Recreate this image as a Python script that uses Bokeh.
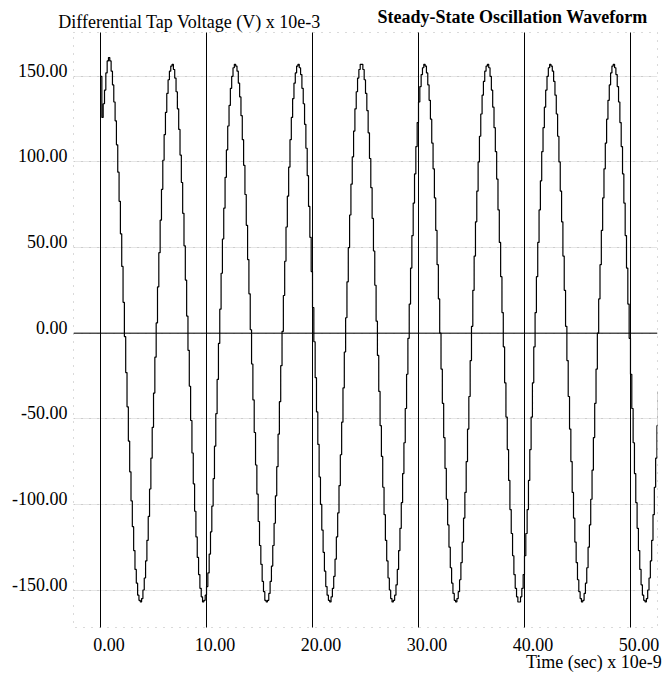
from bokeh.plotting import figure
from bokeh.models import Span, FixedTicker, Range1d, LinearAxis, Grid
from bokeh.embed import file_html
from bokeh.resources import INLINE

# sample interval (ns)
dt = 0.125

# differential tap voltage samples (V x 10e-3)
volts = [
    150, 126, 134, 142, 152, 159, 161, 159, 153, 145,
    135, 124, 110, 94, 77, 58, 39, 18, -2, -23,
    -43, -63, -81, -98, -113, -127, -138, -146, -153, -156,
    -157, -155, -150, -143, -133, -121, -107, -91, -73, -55,
    -35, -14, 6, 27, 47, 66, 84, 101, 116, 129,
    140, 148, 153, 156, 157, 154, 149, 141, 131, 119,
    104, 88, 70, 51, 31, 10, -10, -31, -51, -70,
    -88, -104, -119, -131, -141, -149, -154, -157, -156, -153,
    -148, -140, -129, -116, -101, -85, -66, -47, -27, -6,
    14, 35, 55, 73, 91, 107, 121, 133, 143, 150,
    155, 157, 156, 153, 146, 138, 127, 113, 98, 81,
    63, 43, 23, 2, -18, -39, -58, -77, -94, -110,
    -124, -135, -145, -151, -156, -157, -156, -152, -145, -136,
    -124, -111, -95, -78, -59, -40, -19, 1, 22, 42,
    62, 80, 97, 113, 126, 137, 146, 152, 156, 157,
    155, 151, 143, 134, 122, 108, 92, 74, 56, 36,
    15, -5, -26, -46, -65, -84, -100, -115, -128, -139,
    -148, -153, -156, -157, -154, -149, -142, -132, -119, -105,
    -89, -71, -52, -32, -11, 9, 30, 50, 69, 87,
    103, 118, 131, 141, 149, 154, 157, 157, 154, 148,
    140, 130, 117, 102, 85, 67, 48, 28, 7, -13,
    -34, -54, -72, -90, -106, -121, -133, -143, -150, -155,
    -157, -156, -153, -147, -138, -127, -114, -99, -82, -64,
    -44, -24, -3, 17, 38, 57, 76, 93, 109, 123,
    135, 144, 151, 155, 157, 156, 152, 145, 136, 125,
    111, 96, 79, 60, 40, 20, 0, -21, -41, -61,
    -79, -97, -112, -125, -137, -146, -152, -156, -157, -155,
    -151, -144, -134, -122, -108, -93, -75, -56, -37, -16,
    4, 25, 45, 65, 83, 100, 115, 128, 139, 147,
    153, 156, 157, 155, 150, 142, 132, 120, 106, 90,
    72, 53, 33, 12, -8, -29, -49, -68, -86, -103,
    -117, -130, -141, -149, -154, -157, -157, -154, -149, -141,
    -130, -117, -103, -86, -68, -49, -29, -8, 12, 33,
    53, 72, 89, 106, 120, 132, 142, 150, 155, 157,
    156, 153, 147, 139, 128, 115, 100, 83, 65, 45,
    25, 4, -16, -37, -56, -75, -93, -108, -122, -134,
    -144, -151, -155, -157, -156, -152, -146, -137, -125, -112,
    -97, -80, -61, -41, -21, 0, 20, 40, 60, 79,
    96, 111, 125, 136, 145, 152, 156, 157, 155, 151,
    144, 135, 123, 109, 93, 76, 57, 38, 17, -3,
    -24, -44, -64, -82, -99, -114, -127, -138, -147, -153,
    -156, -157, -155, -150, -143, -133, -121, -106, -90, -73,
    -54, -34, -13, 7,
]
times = [i * dt for i in range(len(volts))]

x_ticks = [0, 10, 20, 30, 40, 50]
x_tick_labels = ["0.00", "10.00", "20.00", "30.00", "40.00", "50.00"]
y_ticks = [-150, -100, -50, 0, 50, 100, 150]
y_tick_labels = ["-150.00", "-100.00", "-50.00", "0.00", "50.00", "100.00", "150.00"]

y_title = "Differential Tap Voltage (V) x 10e-3"
main_title = "Steady-State Oscillation Waveform"
x_title = "Time (sec) x 10e-9"

X0, X1 = -2.55, 52.55
Y0, Y1 = -171.9, 175.6
FONT = "Liberation Serif"
FS = "18px"

# label placement (styling)
X_LABEL_SHIFT = 0.8     # ns: tick labels sit right of their line
Y_LABEL_SHIFT = 3.5     # units: tick labels sit on their grid line
Y_TITLE_POS = 8.4       # ns, centre of the left title text
MAIN_TITLE_POS = 38.87  # ns, centre of the bold title
X_TITLE_POS = 46.54     # ns, centre of the time label

p = figure(width=664, height=674, output_backend="svg", toolbar_location=None,
           x_range=Range1d(X0, X1), y_range=Range1d(Y0, Y1),
           x_axis_location=None, y_axis_location=None,
           min_border_left=73, min_border_right=7, min_border_top=32,
           min_border_bottom=44)
p.background_fill_color = "white"
p.border_fill_color = "white"

def style_axis(ax):
    ax.axis_line_color = None
    ax.major_tick_line_color = None
    ax.minor_tick_line_color = None
    ax.major_tick_in = 0
    ax.major_tick_out = 0
    ax.minor_tick_in = 0
    ax.minor_tick_out = 0
    ax.major_label_text_font = FONT
    ax.major_label_text_font_size = FS
    ax.major_label_text_color = "black"

def text_axis(pos, text):
    ax = LinearAxis(ticker=FixedTicker(ticks=[pos]), major_label_overrides={pos: text})
    style_axis(ax)
    return ax

# bottom: tick labels, then the time label
xpos = [t + X_LABEL_SHIFT for t in x_ticks]
xaxis = LinearAxis(ticker=FixedTicker(ticks=xpos),
                   major_label_overrides={xp: s for xp, s in zip(xpos, x_tick_labels)})
style_axis(xaxis)
xaxis.major_label_standoff = 10
p.add_layout(xaxis, "below")

laxis = text_axis(X_TITLE_POS, x_title)
laxis.major_label_standoff = -2
p.add_layout(laxis, "below")

# left: value labels
ypos = [v + Y_LABEL_SHIFT for v in y_ticks]
yaxis = LinearAxis(ticker=FixedTicker(ticks=ypos),
                   major_label_overrides={yp: s for yp, s in zip(ypos, y_tick_labels)})
style_axis(yaxis)
yaxis.major_label_standoff = 6
p.add_layout(yaxis, "left")

# top: axis title (normal) and chart title (bold) on one line
taxis = text_axis(Y_TITLE_POS, y_title)
taxis.major_label_standoff = 1
p.add_layout(taxis, "above")

maxis = text_axis(MAIN_TITLE_POS, main_title)
maxis.major_label_text_font_style = "bold"
maxis.major_label_standoff = -18
p.add_layout(maxis, "above")

vgrid = Grid(dimension=0, ticker=FixedTicker(ticks=x_ticks), grid_line_color="black",
             grid_line_width=1, level="overlay")
hgrid = Grid(dimension=1, ticker=FixedTicker(ticks=y_ticks), grid_line_color="#b4b4b4",
             grid_line_dash="1 7", grid_line_width=1)
p.add_layout(vgrid)
p.add_layout(hgrid)

p.outline_line_color = "#b4b4b4"
p.outline_line_dash = "1 7"
p.outline_line_width = 1

p.step(times, volts, mode="after", line_color="black", line_width=1.2)
p.add_layout(Span(location=0, dimension="width", line_color="black", line_width=1))

open("out.html", "w").write(file_html(p, INLINE))
